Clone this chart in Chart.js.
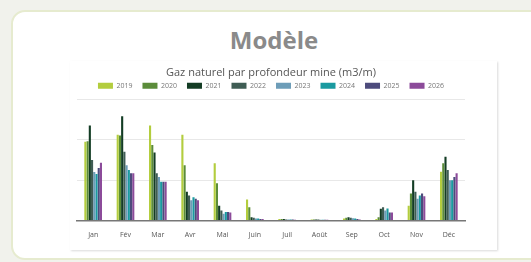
<!DOCTYPE html>
<html>
<head>
<meta charset="utf-8">
<script src="https://cdn.jsdelivr.net/npm/chart.js@4"></script>
<style>
  body { margin: 0; width: 531px; height: 262px; background: #f1f2ec; overflow: hidden; font-family: "Open Sans", sans-serif; }
  .card { position: absolute; left: 11px; top: 10px; width: 540px; height: 246px; background: #fff; border: 2px solid #e6ebcf; border-radius: 14px; }
  .card h2 { position: absolute; left: 0; top: 11px; width: 522px; margin: 0; text-align: center; font-size: 24px; line-height: 33px; font-weight: 700; color: #8a8a8a; }
  .box { position: absolute; left: 70px; top: 61px; width: 427px; height: 189px; background: #fff; box-shadow: 1px 1px 2px rgba(0,0,0,0.15); }
</style>
</head>
<body>
<div class="card"><h2>Modèle</h2></div>
<div class="box"><canvas id="c" width="427" height="189"></canvas></div>
<script>
const months = ["Jan", "Fév", "Mar", "Avr", "Mai", "Juin", "Juil", "Août", "Sep", "Oct", "Nov", "Déc"];
const years = ["2019", "2020", "2021", "2022", "2023", "2024", "2025", "2026"];
const colors = ["#b3cd3e", "#5b8c3a", "#133c24", "#3f5d54", "#6d9db8", "#1a9aa0", "#4d4b7c", "#8c4b9a"];

const v2019 = [19.5, 21.2, 23.5, 21.2, 14.2, 5.2, 0.4, 0.3, 0.5, 0.4, 3.7, 12.1];
const v2020 = [19.6, 21.0, 18.7, 13.7, 9.2, 3.3, 0.4, 0.3, 0.7, 0.8, 6.7, 14.2];
const v2021 = [23.5, 25.8, 16.8, 7.1, 3.7, 0.8, 0.4, 0.3, 0.8, 2.9, 10.0, 15.8];
const v2022 = [15.0, 17.0, 11.7, 6.2, 2.5, 0.7, 0.3, 0.3, 0.7, 3.3, 7.1, 12.5];
const v2023 = [12.0, 13.7, 10.8, 5.0, 1.7, 0.5, 0.3, 0.2, 0.6, 2.5, 5.4, 10.0];
const v2024 = [11.5, 12.5, 9.6, 5.8, 2.1, 0.5, 0.3, 0.2, 0.5, 3.0, 6.2, 10.0];
const v2025 = [13.0, 11.7, 9.6, 5.4, 2.1, 0.4, 0.3, 0.2, 0.4, 2.0, 6.7, 10.8];
const v2026 = [14.3, 11.7, 9.6, 5.0, 2.0, 0.4, 0.2, 0.2, 0.3, 2.0, 6.0, 11.7];
const series = [v2019, v2020, v2021, v2022, v2023, v2024, v2025, v2026];

new Chart(document.getElementById("c"), {
  type: "bar",
  data: {
    labels: months,
    datasets: years.map((y, i) => ({
      label: y,
      data: series[i],
      backgroundColor: colors[i],
      categoryPercentage: 0.55,
      barPercentage: 0.95
    }))
  },
  options: {
    responsive: false,
    animation: false,
    layout: { padding: { left: 7, right: 32, bottom: 9, top: 0 } },
    plugins: {
      title: {
        display: true,
        text: "Gaz naturel par profondeur mine (m3/m)",
        color: "#555",
        font: { family: "Open Sans", size: 11, weight: "normal" },
        padding: { top: 5, bottom: -7 }
      },
      legend: {
        labels: {
          boxWidth: 15, boxHeight: 6, padding: 10,
          color: "#777",
          font: { family: "Open Sans", size: 7 }
        }
      },
      tooltip: { enabled: false }
    },
    scales: {
      x: {
        grid: { display: false },
        border: { color: "#777", width: 1.5 },
        ticks: { color: "#555", font: { family: "Open Sans", size: 7 }, padding: 2 }
      },
      y: {
        min: 0, max: 30,
        ticks: { display: false, stepSize: 10 },
        border: { display: false },
        grid: { color: "#e8e8e8", drawTicks: false }
      }
    }
  }
});
</script>
</body>
</html>
